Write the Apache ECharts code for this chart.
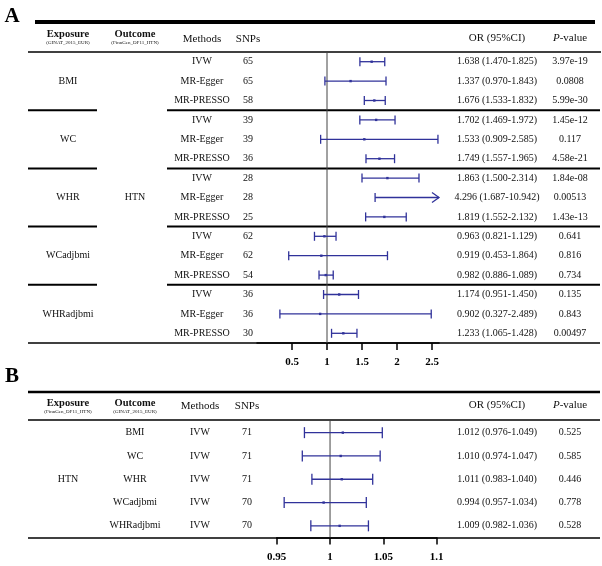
<!DOCTYPE html>
<html><head><meta charset="utf-8">
<script src="https://cdn.jsdelivr.net/npm/echarts@6/dist/echarts.min.js"></script>
<style>html,body{margin:0;padding:0;background:#fff}#c{width:602px;height:566px}</style>
</head><body><div id="c"></div>
<script>
// ---------- Panel A data ----------
const exposuresA = ['BMI', 'WC', 'WHR', 'WCadjbmi', 'WHRadjbmi'];
const outcomeA = 'HTN';
const methodsA = ['IVW', 'MR-Egger', 'MR-PRESSO'];
const snpsA = [65, 65, 58, 39, 39, 36, 28, 28, 25, 62, 62, 54, 36, 36, 30];
const orA   = [1.638, 1.337, 1.676, 1.702, 1.533, 1.749, 1.863, 4.296, 1.819, 0.963, 0.919, 0.982, 1.174, 0.902, 1.233];
const lowA  = [1.470, 0.970, 1.533, 1.469, 0.909, 1.557, 1.500, 1.687, 1.552, 0.821, 0.453, 0.886, 0.951, 0.327, 1.065];
const highA = [1.825, 1.843, 1.832, 1.972, 2.585, 1.965, 2.314, 10.942, 2.132, 1.129, 1.864, 1.089, 1.450, 2.489, 1.428];
const pA = ['3.97e-19', '0.0808', '5.99e-30', '1.45e-12', '0.117', '4.58e-21', '1.84e-08', '0.00513', '1.43e-13', '0.641', '0.816', '0.734', '0.135', '0.843', '0.00497'];
const ticksA = [0.5, 1, 1.5, 2, 2.5];

// ---------- Panel B data ----------
const exposureB = 'HTN';
const outcomesB = ['BMI', 'WC', 'WHR', 'WCadjbmi', 'WHRadjbmi'];
const methodB = 'IVW';
const snpsB = [71, 71, 71, 70, 70];
const orB   = [1.012, 1.010, 1.011, 0.994, 1.009];
const lowB  = [0.976, 0.974, 0.983, 0.957, 0.982];
const highB = [1.049, 1.047, 1.040, 1.034, 1.036];
const pB = ['0.525', '0.585', '0.446', '0.778', '0.528'];
const ticksB = [0.95, 1, 1.05, 1.1];
const nullOR = 1;

// ---------- styles / layout ----------
const FONT = '"Liberation Serif", "Times New Roman", serif';
const BAR = '#30329a';
const COL = { exp: 68, out: 135, method: 202, snp: 248, or: 497, p: 570 };
const XMAX_A = 2.6, XMIN_A = 0;
const XMAX_B = 1.1, XMIN_B = 0.95;

function fmtOR(o, l, h) { return o.toFixed(3) + ' (' + l.toFixed(3) + '-' + h.toFixed(3) + ')'; }

function txt(x, y, text, size, extra) {
  return {
    type: 'text',
    style: Object.assign({
      x: x, y: y, text: text, font: size + 'px ' + FONT, fill: '#111',
      textAlign: 'center', textVerticalAlign: 'middle', align: 'center', verticalAlign: 'middle'
    }, extra || {})
  };
}
function hline(x1, x2, y, w) {
  return { type: 'line', shape: { x1: x1, y1: y, x2: x2, y2: y }, style: { stroke: '#000', lineWidth: w } };
}

function makeBar(xMax, cap) {
  return function (params, api) {
    const lo = api.value(0), hi = api.value(1), o = api.value(2), r = api.value(3);
    const pLo = api.coord([lo, r]);
    const y = pLo[1], xLo = pLo[0];
    const clipped = hi > xMax;
    const xHi = api.coord([clipped ? xMax : hi, r])[0];
    const st = { stroke: BAR, lineWidth: 1.3, fill: null };
    const ch = [
      { type: 'line', shape: { x1: xLo, y1: y, x2: xHi, y2: y }, style: st },
      { type: 'line', shape: { x1: xLo, y1: y - cap, x2: xLo, y2: y + cap }, style: st }
    ];
    if (clipped) {
      ch.push({ type: 'polyline', shape: { points: [[xHi - 7, y - 5], [xHi, y], [xHi - 7, y + 5]] }, style: st });
    } else {
      ch.push({ type: 'line', shape: { x1: xHi, y1: y - cap, x2: xHi, y2: y + cap }, style: st });
    }
    if (o <= xMax) {
      const xo = api.coord([o, r])[0];
      ch.push({ type: 'rect', shape: { x: xo - 1.2, y: y - 1.2, width: 2.4, height: 2.4 }, style: { fill: BAR } });
    }
    return { type: 'group', children: ch };
  };
}

function refLine(params, api) {
  const cs = params.coordSys;
  const x = api.coord([api.value(0), 0])[0];
  return { type: 'line', shape: { x1: x, y1: cs.y, x2: x, y2: cs.y + cs.height }, style: { stroke: '#444', lineWidth: 1 } };
}

const rowsA = snpsA.map((_, i) => i);
const rowsB = snpsB.map((_, i) => i);

function tableA(params, api) {
  const i = api.value(1);
  const y = api.coord([1, i])[1];
  const ch = [
    txt(COL.method, y, methodsA[i % 3], 10),
    txt(COL.snp, y, String(snpsA[i]), 10),
    txt(COL.or, y, fmtOR(orA[i], lowA[i], highA[i]), 10),
    txt(COL.p, y, pA[i], 10)
  ];
  if (i % 3 === 1) ch.push(txt(COL.exp, y, exposuresA[(i - 1) / 3], 10));
  if (i === Math.floor(rowsA.length / 2)) ch.push(txt(COL.out, y, outcomeA, 10));
  if (i % 3 === 2 && i < rowsA.length - 1) {
    const band = api.size([0, 1])[1];
    const ys = y + band / 2;
    ch.push(hline(28, 97, ys, 2));
    ch.push(hline(167, 600, ys, 2));
  }
  return { type: 'group', children: ch };
}
function tableB(params, api) {
  const i = api.value(1);
  const y = api.coord([1, i])[1];
  const ch = [
    txt(COL.out, y, outcomesB[i], 10),
    txt(200, y, methodB, 10),
    txt(247, y, String(snpsB[i]), 10),
    txt(COL.or, y, fmtOR(orB[i], lowB[i], highB[i]), 10),
    txt(COL.p, y, pB[i], 10)
  ];
  if (i === Math.floor(rowsB.length / 2)) ch.push(txt(COL.exp, y, exposureB, 10));
  return { type: 'group', children: ch };
}

function xAxisCfg(grid, min, max, ticks) {
  return {
    gridIndex: grid, type: 'value', min: min, max: max,
    axisLine: { show: true, lineStyle: { color: '#000', width: 1.5 } },
    splitLine: { show: false },
    axisTick: { show: true, length: 7, customValues: ticks, lineStyle: { color: '#000', width: 1.5 } },
    axisLabel: {
      customValues: ticks, margin: 14, color: '#000', fontWeight: 'bold', fontSize: 11, fontFamily: FONT,
      formatter: v => (ticks.some(t => Math.abs(t - v) < 1e-9) ? String(v) : '')
    }
  };
}

const graphics = [
  txt(12, 17, 'A', 21, { font: 'bold 21px ' + FONT, fill: '#000' }),
  txt(12, 377, 'B', 21, { font: 'bold 21px ' + FONT, fill: '#000' }),
  // Panel A header
  hline(35, 595, 22, 4),
  txt(COL.exp, 34, 'Exposure', 10.5, { font: 'bold 10.5px ' + FONT }),
  txt(COL.exp, 43, '(GINAT_2015_EUR)', 5, { font: '5px ' + FONT }),
  txt(COL.out, 34, 'Outcome', 10.5, { font: 'bold 10.5px ' + FONT }),
  txt(COL.out, 43, '(FinnGen_DF11_HTN)', 5, { font: '5px ' + FONT }),
  txt(COL.method, 39, 'Methods', 11),
  txt(COL.snp, 39, 'SNPs', 11),
  txt(COL.or, 38, 'OR (95%CI)', 11),
  txt(553, 38, 'P', 11, { font: 'italic 11px ' + FONT, textAlign: 'left', align: 'left' }),
  txt(559.7, 38, '-value', 11, { textAlign: 'left', align: 'left' }),
  hline(28, 601, 52, 1.5),
  hline(28, 600, 343, 1.5),
  // Panel B header
  hline(28, 600, 392, 2.5),
  txt(COL.exp, 403, 'Exposure', 10.5, { font: 'bold 10.5px ' + FONT }),
  txt(COL.exp, 412, '(FinnGen_DF11_HTN)', 5, { font: '5px ' + FONT }),
  txt(COL.out, 403, 'Outcome', 10.5, { font: 'bold 10.5px ' + FONT }),
  txt(COL.out, 412, '(GINAT_2015_EUR)', 5, { font: '5px ' + FONT }),
  txt(200, 406, 'Methods', 11),
  txt(247, 406, 'SNPs', 11),
  txt(COL.or, 405, 'OR (95%CI)', 11),
  txt(553, 405, 'P', 11, { font: 'italic 11px ' + FONT, textAlign: 'left', align: 'left' }),
  txt(559.7, 405, '-value', 11, { textAlign: 'left', align: 'left' }),
  hline(28, 600, 420, 1.5),
  hline(28, 600, 538, 1.5)
];

const chart = echarts.init(document.getElementById('c'), null, { renderer: 'canvas' });
chart.setOption({
  animation: false,
  backgroundColor: '#fff',
  textStyle: { fontFamily: FONT },
  grid: [
    { left: 257, width: 182, top: 52, height: 291, outerBoundsMode: 'none', containLabel: false },
    { left: 276.7, width: 160, top: 421, height: 116.5, outerBoundsMode: 'none', containLabel: false }
  ],
  xAxis: [xAxisCfg(0, XMIN_A, XMAX_A, ticksA), xAxisCfg(1, XMIN_B, XMAX_B, ticksB)],
  yAxis: [
    { gridIndex: 0, type: 'category', data: rowsA.map(String), inverse: true, show: false },
    { gridIndex: 1, type: 'category', data: rowsB.map(String), inverse: true, show: false }
  ],
  graphic: { elements: graphics },
  series: [
    {
      type: 'custom', xAxisIndex: 0, yAxisIndex: 0, clip: false, silent: true,
      data: rowsA.map(i => [1, i]), encode: { x: 0, y: 1 }, renderItem: tableA
    },
    {
      type: 'custom', xAxisIndex: 0, yAxisIndex: 0, clip: false, silent: true,
      data: [[nullOR, 0]], encode: { x: 0, y: 1 }, renderItem: refLine
    },
    {
      type: 'custom', xAxisIndex: 0, yAxisIndex: 0, clip: false, silent: true,
      data: rowsA.map(i => [lowA[i], highA[i], orA[i], i]), encode: { x: [0, 1, 2], y: 3 },
      renderItem: makeBar(XMAX_A, 4.5)
    },
    {
      type: 'custom', xAxisIndex: 1, yAxisIndex: 1, clip: false, silent: true,
      data: rowsB.map(i => [1, i]), encode: { x: 0, y: 1 }, renderItem: tableB
    },
    {
      type: 'custom', xAxisIndex: 1, yAxisIndex: 1, clip: false, silent: true,
      data: [[nullOR, 0]], encode: { x: 0, y: 1 }, renderItem: refLine
    },
    {
      type: 'custom', xAxisIndex: 1, yAxisIndex: 1, clip: false, silent: true,
      data: rowsB.map(i => [lowB[i], highB[i], orB[i], i]), encode: { x: [0, 1, 2], y: 3 },
      renderItem: makeBar(XMAX_B, 5.5)
    }
  ]
});
</script></body></html>
